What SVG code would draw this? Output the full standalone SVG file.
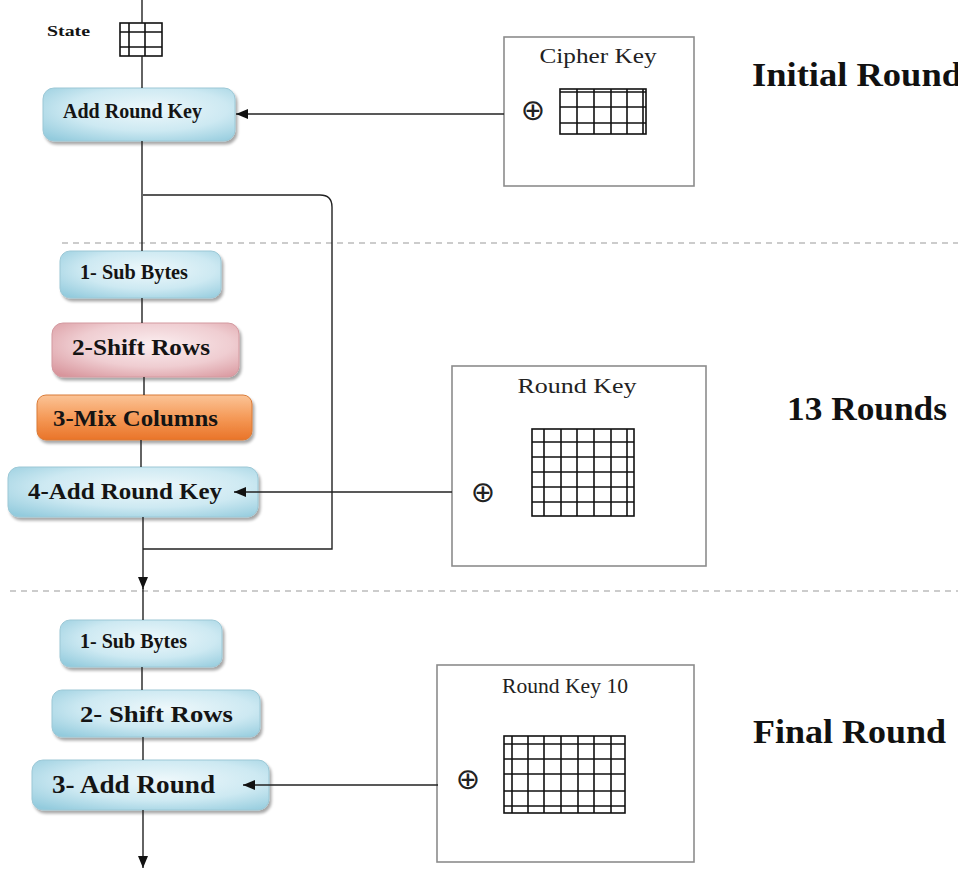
<svg xmlns="http://www.w3.org/2000/svg" width="958" height="870" viewBox="0 0 958 870">
  <style>
    .bg { fill: #ffffff; }
    .wire { fill: none; stroke: #222; stroke-width: 1.4; }
    .sep { fill: none; stroke: #9a9a9a; stroke-width: 1.2; stroke-dasharray: 6 5; }
    .keybox { fill: #ffffff; stroke: #8c8c8c; stroke-width: 1.6; }
    .grid { fill: none; stroke: #111; stroke-width: 1.6; }
    .lbl { font-family: "Liberation Serif", "Times New Roman", serif; font-weight: bold; fill: #141414; }
    .keytitle { font-family: "Liberation Serif", "Times New Roman", serif; font-size: 22px; fill: #222; text-anchor: middle; }
    .xor { font-family: "DejaVu Sans", sans-serif; font-size: 29px; fill: #222; text-anchor: middle; }
    .stage { font-family: "Liberation Serif", "Times New Roman", serif; font-weight: bold; fill: #111; }
    .blue { fill: url(#gBlue); stroke: #9cc8d6; stroke-width: 1; filter: url(#shadow); }
    .pink { fill: url(#gPink); stroke: #d39aa0; stroke-width: 1; filter: url(#shadow); }
    .orange { fill: url(#gOrange); stroke: #d97a36; stroke-width: 1; filter: url(#shadow); }
  </style>
  <defs>
    <radialGradient id="gBlue" cx="0.55" cy="0.4" r="0.75">
      <stop offset="0" stop-color="#eef8fb"/>
      <stop offset="0.55" stop-color="#cde9f2"/>
      <stop offset="1" stop-color="#93cbdd"/>
    </radialGradient>
    <radialGradient id="gPink" cx="0.55" cy="0.4" r="0.75">
      <stop offset="0" stop-color="#fbeef0"/>
      <stop offset="0.55" stop-color="#efcdd1"/>
      <stop offset="1" stop-color="#d8959c"/>
    </radialGradient>
    <linearGradient id="gOrange" x1="0" y1="0" x2="0" y2="1">
      <stop offset="0" stop-color="#fbc497"/>
      <stop offset="0.5" stop-color="#f59a58"/>
      <stop offset="1" stop-color="#e97429"/>
    </linearGradient>
    <filter id="shadow" x="-10%" y="-20%" width="125%" height="150%">
      <feGaussianBlur in="SourceAlpha" stdDeviation="1.6"/>
      <feOffset dx="2" dy="3" result="b"/>
      <feComponentTransfer><feFuncA type="linear" slope="0.35"/></feComponentTransfer>
      <feMerge><feMergeNode/><feMergeNode in="SourceGraphic"/></feMerge>
    </filter>
    <marker id="arrow" markerUnits="userSpaceOnUse" markerWidth="13" markerHeight="11" refX="12" refY="5" orient="auto">
      <path d="M0,0 L12,5 L0,10 z" fill="#111"/>
    </marker>
  </defs>

  <rect class="bg" x="0" y="0" width="958" height="870"/>

  <!-- round separators -->
  <line class="sep" x1="62" y1="243" x2="958" y2="243"/>
  <line class="sep" x1="10" y1="591" x2="958" y2="591"/>

  <!-- state matrix -->
  <g id="state">
    <text class="lbl" x="47" y="36" font-size="14" textLength="43" lengthAdjust="spacingAndGlyphs">State</text>
    <rect class="grid" x="120" y="23" width="42" height="33"/>
    <path class="grid" d="M129,23 V56 M145,23 V56 M120,32 H162 M120,47 H162"/>
  </g>

  <!-- initial round -->
  <g id="add-round-key">
    <rect class="blue" x="43" y="88" width="192" height="53" rx="11"/>
    <text class="lbl" x="63" y="118" font-size="21" textLength="139" lengthAdjust="spacingAndGlyphs">Add Round Key</text>
  </g>

  <g id="cipher-key">
    <rect class="keybox" x="504" y="37" width="190" height="149"/>
    <text class="keytitle" x="598" y="63" textLength="117" lengthAdjust="spacingAndGlyphs">Cipher Key</text>
    <text class="xor" x="533" y="120">⊕</text>
    <rect class="grid" x="560" y="89" width="86" height="45"/>
    <path class="grid" d="M577,89 V134 M594,89 V134 M611,89 V134 M627,89 V134 M643,89 V134 M560,92 H646 M560,107 H646 M560,123 H646"/>
  </g>

  <!-- main rounds -->
  <g id="sub-bytes">
    <rect class="blue" x="60" y="251" width="161" height="47" rx="10"/>
    <text class="lbl" x="80" y="279" font-size="20" textLength="108" lengthAdjust="spacingAndGlyphs">1- Sub Bytes</text>
  </g>

  <g id="shift-rows">
    <rect class="pink" x="52" y="323" width="187" height="54" rx="11"/>
    <text class="lbl" x="72" y="355" font-size="23" textLength="138" lengthAdjust="spacingAndGlyphs">2-Shift Rows</text>
  </g>

  <g id="mix-columns">
    <rect class="orange" x="37" y="395" width="215" height="45" rx="9"/>
    <text class="lbl" x="53" y="426" font-size="23" textLength="165" lengthAdjust="spacingAndGlyphs">3-Mix Columns</text>
  </g>

  <g id="add-round-key-4">
    <rect class="blue" x="8" y="467" width="250" height="50" rx="11"/>
    <text class="lbl" x="28" y="499" font-size="24" textLength="194" lengthAdjust="spacingAndGlyphs">4-Add Round Key</text>
  </g>

  <g id="round-key">
    <rect class="keybox" x="452" y="366" width="254" height="200"/>
    <text class="keytitle" x="577" y="393" textLength="119" lengthAdjust="spacingAndGlyphs">Round Key</text>
    <text class="xor" x="483" y="502">⊕</text>
    <rect class="grid" x="532" y="429" width="102" height="87"/>
    <path class="grid" d="M544,429 V516 M561,429 V516 M577,429 V516 M594,429 V516 M611,429 V516 M627,429 V516 M532,442 H634 M532,457 H634 M532,472 H634 M532,487 H634 M532,502 H634"/>
  </g>

  <!-- final round -->
  <g id="final-sub-bytes">
    <rect class="blue" x="60" y="620" width="162" height="47" rx="10"/>
    <text class="lbl" x="80" y="648" font-size="20" textLength="107" lengthAdjust="spacingAndGlyphs">1- Sub Bytes</text>
  </g>

  <g id="final-shift-rows">
    <rect class="blue" x="52" y="690" width="208" height="47" rx="10"/>
    <text class="lbl" x="80" y="722" font-size="24" textLength="153" lengthAdjust="spacingAndGlyphs">2- Shift Rows</text>
  </g>

  <g id="final-add-round">
    <rect class="blue" x="32" y="760" width="237" height="50" rx="11"/>
    <text class="lbl" x="52" y="793" font-size="25" textLength="163" lengthAdjust="spacingAndGlyphs">3- Add Round</text>
  </g>

  <g id="round-key-10">
    <rect class="keybox" x="437" y="665" width="257" height="197"/>
    <text class="keytitle" x="565" y="693" textLength="126" lengthAdjust="spacingAndGlyphs">Round Key 10</text>
    <text class="xor" x="468" y="789">⊕</text>
    <rect class="grid" x="504" y="736" width="121" height="77"/>
    <path class="grid" d="M512,736 V813 M528,736 V813 M544,736 V813 M561,736 V813 M578,736 V813 M594,736 V813 M611,736 V813 M504,744 H625 M504,759 H625 M504,774 H625 M504,791 H625 M504,806 H625"/>
  </g>

  <!-- stage titles -->
  <g id="stage-titles">
    <text class="stage" x="752" y="86" font-size="33" textLength="210" lengthAdjust="spacingAndGlyphs">Initial Round</text>
    <text class="stage" x="787" y="420" font-size="33" textLength="160" lengthAdjust="spacingAndGlyphs">13 Rounds</text>
    <text class="stage" x="753" y="743" font-size="33" textLength="193" lengthAdjust="spacingAndGlyphs">Final Round</text>
  </g>

  <!-- connectors (drawn last so arrowheads sit on top of the boxes) -->
  <g id="connectors">
    <path class="wire" d="M142,0 V23"/>
    <path class="wire" d="M142,56 V88"/>
    <path class="wire" d="M142,141 V251"/>
    <path class="wire" d="M143,195 H320 Q332,195 332,207 V549 H143"/>
    <path class="wire" d="M142,298 V323"/>
    <path class="wire" d="M144,377 V395"/>
    <path class="wire" d="M141,440 V467"/>
    <path class="wire" d="M143,517 V589" marker-end="url(#arrow)"/>
    <path class="wire" d="M143,588 V620"/>
    <path class="wire" d="M142,667 V690"/>
    <path class="wire" d="M143,737 V760"/>
    <path class="wire" d="M143,810 V868" marker-end="url(#arrow)"/>
    <path class="wire" d="M504,114 H236" marker-end="url(#arrow)"/>
    <path class="wire" d="M452,492 H234" marker-end="url(#arrow)"/>
    <path class="wire" d="M438,785 H243" marker-end="url(#arrow)"/>
  </g>
</svg>
